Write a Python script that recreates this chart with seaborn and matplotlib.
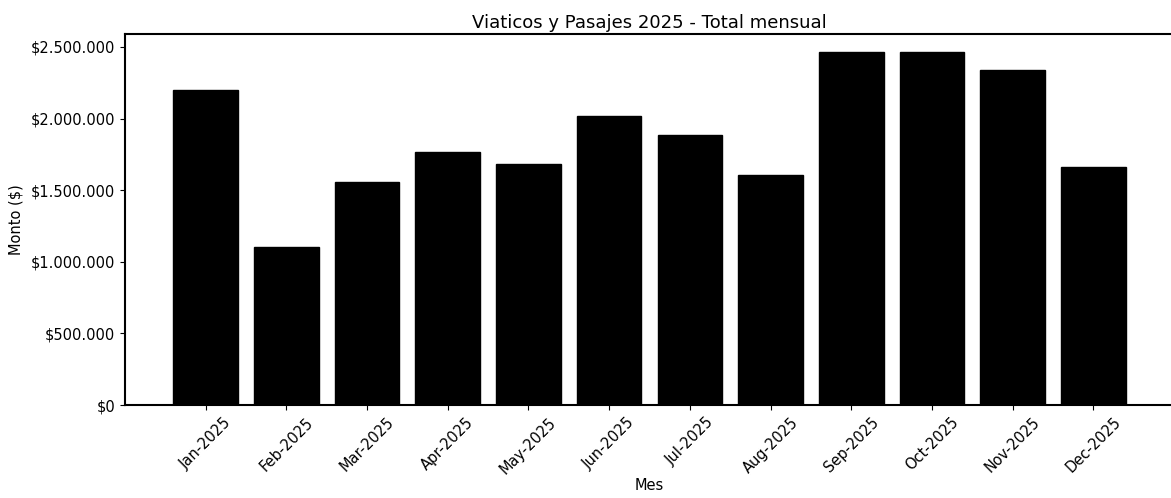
import matplotlib
matplotlib.use("Agg")
import matplotlib.pyplot as plt
import seaborn as sns
import pandas as pd
from matplotlib.ticker import FuncFormatter

meses = ["Jan-2025", "Feb-2025", "Mar-2025", "Apr-2025", "May-2025", "Jun-2025",
         "Jul-2025", "Aug-2025", "Sep-2025", "Oct-2025", "Nov-2025", "Dec-2025"]
montos = [2200000, 1105000, 1559000, 1769000, 1683000, 2018000,
          1888000, 1606000, 2467000, 2467000, 2339000, 1660000]

sns.set_style("ticks")
plt.rcParams['font.family'] = ['DejaVu Sans']
plt.rcParams['text.color'] = 'black'
plt.rcParams['axes.labelcolor'] = 'black'
plt.rcParams['xtick.color'] = 'black'
plt.rcParams['ytick.color'] = 'black'

df = pd.DataFrame({"Mes": meses, "Monto": montos})

W, H = 1171, 498
fig = plt.figure(figsize=(W / 100, H / 100), dpi=100)
ax = fig.add_axes([125 / W, (H - 405) / H, (1174 - 125) / W, (405 - 34) / H])

sns.barplot(data=df, x="Mes", y="Monto", color="black", width=0.8,
            saturation=1, ax=ax, edgecolor="black")

ax.set_xlim(-1, 12)
ax.set_ylim(0, max(montos) * 1.05)
ax.yaxis.set_major_formatter(FuncFormatter(lambda v, p: "$" + f"{int(v):,}".replace(",", ".")))
ax.tick_params(axis="x", rotation=45, labelsize=10.5)
ax.tick_params(axis="y", labelsize=10.5)
for lbl in ax.get_xticklabels():
    lbl.set_ha("center")
ax.set_title("Viaticos y Pasajes 2025 - Total mensual", fontsize=13, pad=4)
ax.set_xlabel("Mes", fontsize=10.5, labelpad=1)
ax.set_ylabel("Monto ($)", fontsize=10.5, labelpad=5)
for s in ax.spines.values():
    s.set_color("black")
    s.set_linewidth(1.5)

fig.savefig("out.png", dpi=100)
